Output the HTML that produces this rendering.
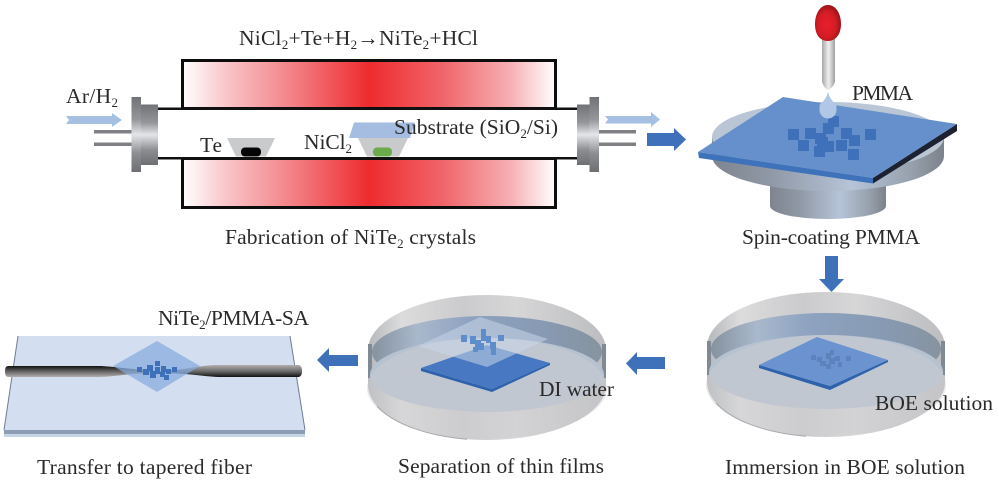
<!DOCTYPE html>
<html><head><meta charset="utf-8"><style>
html,body{margin:0;padding:0;background:#fff}
svg{display:block}
text{font-family:"Liberation Serif",serif;fill:#2a2a2a;font-size:21.5px}
.s{font-size:13px}
</style></head><body>
<svg width="999" height="480" viewBox="0 0 999 480" xmlns="http://www.w3.org/2000/svg">
<defs>
<linearGradient id="heat" x1="0" x2="1" y1="0" y2="0">
<stop offset="0" stop-color="#fff"/><stop offset=".12" stop-color="#f9c4c8"/><stop offset=".3" stop-color="#f37f84"/><stop offset=".5" stop-color="#ee2b2e"/><stop offset=".7" stop-color="#f0666b"/><stop offset=".88" stop-color="#f6b0b4"/><stop offset="1" stop-color="#fff"/>
</linearGradient>
<linearGradient id="fl" x1="0" x2="0" y1="0" y2="1">
<stop offset="0" stop-color="#707276"/><stop offset=".3" stop-color="#94969a"/><stop offset=".5" stop-color="#e4e5e8"/><stop offset=".75" stop-color="#8c8e92"/><stop offset="1" stop-color="#6d6f73"/>
</linearGradient>
<linearGradient id="steel" x1="0" x2="1" y1="0" y2="0">
<stop offset="0" stop-color="#7e858f"/><stop offset=".25" stop-color="#8f98a5"/><stop offset=".6" stop-color="#b6c4d8"/><stop offset=".85" stop-color="#98a2ae"/><stop offset="1" stop-color="#7c828a"/>
</linearGradient>
<linearGradient id="needle" x1="0" x2="1" y1="0" y2="0">
<stop offset="0" stop-color="#a6a6a8"/><stop offset=".5" stop-color="#f0f0f0"/><stop offset="1" stop-color="#a0a0a2"/>
</linearGradient>
<radialGradient id="bulb" cx=".45" cy=".55" r=".6">
<stop offset="0" stop-color="#e8202a"/><stop offset=".6" stop-color="#d31c24"/><stop offset="1" stop-color="#8c1118"/>
</radialGradient>
<linearGradient id="glass" x1="0" x2="1" y1="0" y2="0">
<stop offset="0" stop-color="#b5b7ba"/><stop offset=".14" stop-color="#dcdcdd"/><stop offset=".4" stop-color="#cbcbcd"/><stop offset=".62" stop-color="#d6d6d7"/><stop offset="1" stop-color="#bcbdc0"/>
</linearGradient>
<linearGradient id="band" x1="0" x2="1" y1="0" y2="0">
<stop offset="0" stop-color="#85929f"/><stop offset=".2" stop-color="#a9b8cc"/><stop offset=".42" stop-color="#8ea3c0"/><stop offset=".75" stop-color="#879ab3"/><stop offset="1" stop-color="#87939f"/>
</linearGradient>
<linearGradient id="fibL" x1="0" x2="0" y1="0" y2="1">
<stop offset="0" stop-color="#111"/><stop offset=".4" stop-color="#555"/><stop offset="1" stop-color="#b4aeae"/>
</linearGradient>
<linearGradient id="fibR" x1="0" x2="0" y1="0" y2="1">
<stop offset="0" stop-color="#b4aeae"/><stop offset=".55" stop-color="#666"/><stop offset="1" stop-color="#111"/>
</linearGradient>
<g id="dish">
<path d="M-119,0 L-119,35 A119,55 0 0 0 119,35 L119,0 A119,55 0 0 0 -119,0Z" fill="url(#glass)"/>
<path d="M-119,-6 L-119,28 L-115,28 L-115,-6Z" fill="#7f8a95"/>
<path d="M119,-6 L119,28 L115,28 L115,-6Z" fill="#7f8a95"/>
<ellipse cx="0" cy="2" rx="115" ry="36" fill="url(#band)"/>
<ellipse cx="0" cy="25" rx="117" ry="37" fill="#b6c2d0"/>
<ellipse cx="0" cy="38" rx="120" ry="50" fill="#cfd0d2" opacity=".42"/>
<path d="M-110,56 A119,55 0 0 0 -20,89.200" fill="none" stroke="#a5a8ac" stroke-width="1"/>
</g>
</defs>

<!-- furnace -->
<rect x="182.500" y="60.500" width="373" height="48" fill="url(#heat)" stroke="#0d0d0d" stroke-width="3"/>
<rect x="182.500" y="158.500" width="373" height="49" fill="url(#heat)" stroke="#0d0d0d" stroke-width="3"/>
<rect x="158" y="107.500" width="419" height="2.500" fill="#111"/>
<rect x="158" y="157" width="419" height="2.500" fill="#111"/>
<rect x="158" y="110" width="419" height="47" fill="#fff"/>

<!-- flanges -->
<rect x="94" y="130" width="38" height="3.500" fill="#808084"/>
<rect x="94" y="142.500" width="38" height="3.500" fill="#808084"/>
<rect x="131.500" y="97" width="9.500" height="75" fill="url(#fl)"/>
<rect x="141" y="104.500" width="17" height="60.500" fill="url(#fl)"/>
<rect x="599" y="130" width="37" height="3.500" fill="#808084"/>
<rect x="599" y="142.500" width="37" height="3.500" fill="#808084"/>
<rect x="577" y="104.500" width="12.500" height="60.500" fill="url(#fl)"/>
<rect x="589.500" y="97" width="9.500" height="75" fill="url(#fl)"/>

<!-- flow arrows -->
<polygon points="66,116 112,116 112,113 122,120 112,127 112,124 66,124 69,120" fill="#a5c0e3"/>
<polygon points="605,116 651,116 651,112 660,119.500 651,127 651,123.500 605,123.500 608,119.500" fill="#a5c0e3"/>
<polygon points="647,133 674,133 674,128 686,139.500 674,151 674,146 647,146" fill="#3e71ba"/>

<!-- boats -->
<polygon points="227,138 275,138 266,156.500 236,156.500" fill="#c9cacb"/>
<rect x="241" y="147.500" width="20" height="9" rx="4" fill="#050505"/>
<polygon points="358,138 408,138 399,156.500 367,156.500" fill="#c9cacb"/>
<rect x="373" y="147.500" width="19" height="9" rx="4" fill="#6cab4c"/>
<polygon points="354,122.500 415,122.500 410,138 349,138" fill="#a4bde0"/>

<!-- spin coater -->
<path d="M770,185 L770,206 A58,13 0 0 0 886,206 L886,185Z" fill="url(#steel)"/>
<path d="M712,137 L712,156 A116,35 0 0 0 944,156 L944,137Z" fill="url(#steel)"/>
<ellipse cx="828" cy="137" rx="116" ry="35" fill="#bac6d6"/>
<polygon points="698,152 699,158 873,183.500 873,178" fill="#3e72bb"/>
<polygon points="873,178 873,183.500 957,131 957,124" fill="#1d2233"/>
<polygon points="698,152 783,97 957,124 873,178" fill="#6690cb"/>
<g fill="#3f71bb">
<rect x="788" y="129" width="11" height="11"/><rect x="805" y="128" width="11" height="11"/><rect x="798" y="140" width="11" height="11"/><rect x="815" y="133" width="11" height="11"/><rect x="823" y="123" width="11" height="11"/><rect x="828" y="116" width="11" height="11"/><rect x="841" y="128" width="11" height="11"/><rect x="849" y="135" width="11" height="11"/><rect x="836" y="140" width="11" height="11"/><rect x="848" y="149" width="11" height="11"/><rect x="865" y="129" width="11" height="11"/><rect x="814" y="146" width="11" height="11"/><rect x="823" y="141" width="11" height="11"/><rect x="817" y="137" width="11" height="11"/>
</g>
<rect x="822" y="38" width="13" height="44" fill="url(#needle)"/>
<path d="M822,80 L822,82 Q824,88 828,90 Q833,88 835,82 L835,80Z" fill="url(#needle)"/>
<path d="M828,5 C836,5 841,14 841,24 C841,35 835,41 828,41 C820,41 815,35 815,24 C815,14 820,5 828,5Z" fill="url(#bulb)"/>
<path d="M828,92 Q830,100 836,104 A8.500,8.500 0 1 1 820,104 Q826,100 828,92Z" fill="#b0c7e5"/>
<circle cx="828" cy="110" r="8.500" fill="#b0c7e5"/>

<!-- immersion dish -->
<use href="#dish" transform="translate(826,347)"/>
<polygon points="759,365 759,368 830,390 888,362 888,360 830,386" fill="#2f62ad"/>
<polygon points="759,365 817,337 888,360 830,386" fill="#6a93cf"/>
<g fill="#5d83bd">
<rect x="811" y="355" width="5" height="5"/><rect x="817" y="357" width="5" height="5"/><rect x="820" y="361" width="6" height="5"/><rect x="826" y="353" width="5" height="6"/><rect x="829" y="358" width="6" height="6"/><rect x="826" y="364" width="5" height="5"/><rect x="835" y="356" width="5" height="5"/><rect x="838" y="362" width="4" height="5"/><rect x="846" y="356" width="5" height="5"/><rect x="830" y="350" width="4" height="5"/>
</g>

<!-- separation dish -->
<use href="#dish" transform="translate(487,350)"/>
<polygon points="421,368 421,371 492,392 550,365 550,363 492,389" fill="#2f62ad"/>
<polygon points="421,368 487,345 550,363 492,389" fill="#4878c2"/>
<polygon points="418,346 480,317 548,339 487,367" fill="#c8d6e8" opacity=".55"/>
<g fill="#5f8ccb">
<rect x="461" y="335" width="6" height="7"/><rect x="470" y="336" width="6" height="8"/><rect x="475" y="340" width="6" height="8"/><rect x="481" y="333" width="5" height="8"/><rect x="478" y="343" width="6" height="7"/><rect x="481" y="329" width="5" height="6"/><rect x="486" y="336" width="5" height="7"/><rect x="490" y="342" width="6" height="7"/><rect x="491" y="349" width="5" height="6"/><rect x="498" y="335" width="6" height="6"/><rect x="473" y="347" width="5" height="5"/>
</g>

<!-- glass slide -->
<polygon points="4,430 305,430 305,436 4,436" fill="#8d9db5"/>
<polygon points="4,434 305,434 305,437 4,437" fill="#c6d4e8"/>
<polygon points="18,336 290,336 305,430 4,430" fill="#d3dff1"/>
<path d="M18,336 L4,430 M290,336 L305,430" stroke="#6e7d92" stroke-width="1" fill="none"/>
<path d="M8,366 L98,366 C112,366 125,369 157,371 L157,373 C130,373 115,377 98,377 L8,377 Q5,377 5,371.500 Q5,366 8,366Z" fill="url(#fibL)"/>
<path d="M157,371 C180,371 195,366 215,365 L298,365 Q302,365 302,371 Q302,377 298,377 L222,377 C205,377 190,373 157,373Z" fill="url(#fibR)"/>
<polygon points="113,366 157,341 200,366 157,392" fill="#86abde" opacity=".72"/>
<g fill="#3f71bb">
<rect x="137" y="367" width="5" height="5"/><rect x="143" y="369" width="6" height="6"/><rect x="147" y="365" width="6" height="6"/><rect x="150" y="371" width="6" height="7"/><rect x="155" y="367" width="5" height="7"/><rect x="155" y="361" width="5" height="5"/><rect x="160" y="372" width="5" height="5"/><rect x="161" y="366" width="5" height="6"/><rect x="166" y="369" width="5" height="5"/><rect x="172" y="367" width="5" height="5"/><rect x="164" y="375" width="5" height="5"/>
</g>

<!-- process arrows -->
<polygon points="825,256 838,256 838,279 844,279 831.500,292 819,279 825,279" fill="#3e71ba"/>
<polygon points="665,357 637,357 637,352 626,363.500 637,375 637,369 665,369" fill="#3e71ba"/>
<polygon points="358,355 329,355 329,348 317,360 329,372 329,366 358,366" fill="#3e71ba"/>

<!-- labels -->
<text x="239" y="45" textLength="239">NiCl<tspan class="s" dy="4">2</tspan><tspan dy="-4">+Te+H</tspan><tspan class="s" dy="4">2</tspan><tspan dy="-4">→NiTe</tspan><tspan class="s" dy="4">2</tspan><tspan dy="-4">+HCl</tspan></text>
<text x="66" y="103" textLength="52">Ar/H<tspan class="s" dy="4">2</tspan></text>
<text x="200" y="152" textLength="22">Te</text>
<text x="304" y="149" textLength="48">NiCl<tspan class="s" dy="4">2</tspan></text>
<text x="394" y="134" textLength="164">Substrate (SiO<tspan class="s" dy="4">2</tspan><tspan dy="-4">/Si)</tspan></text>
<text x="225" y="244" textLength="251">Fabrication of NiTe<tspan class="s" dy="4">2</tspan><tspan dy="-4"> crystals</tspan></text>
<text x="852" y="100" textLength="61">PMMA</text>
<text x="742" y="244" textLength="178">Spin-coating PMMA</text>
<text x="875" y="410" textLength="118">BOE solution</text>
<text x="725" y="474" textLength="240">Immersion in BOE solution</text>
<text x="539" y="396" textLength="75">DI water</text>
<text x="398" y="473" textLength="206">Separation of thin films</text>
<text x="158" y="325" textLength="151">NiTe<tspan class="s" dy="4">2</tspan><tspan dy="-4">/PMMA-SA</tspan></text>
<text x="37" y="474" textLength="215">Transfer to tapered fiber</text>
</svg>
</body></html>
